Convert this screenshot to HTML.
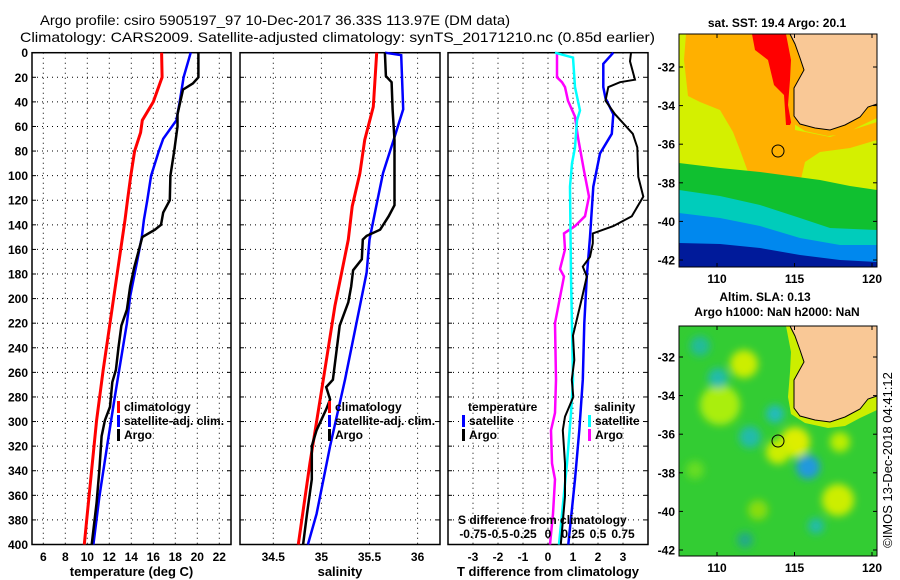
<!DOCTYPE html>
<html><head><meta charset="utf-8"><style>
html,body{margin:0;padding:0;background:#fff;}
svg{display:block;font-family:"Liberation Sans",sans-serif;}
</style></head><body>
<svg id="chart" width="900" height="580" viewBox="0 0 900 580" xmlns="http://www.w3.org/2000/svg">
<defs><filter id="soft" x="-50%" y="-50%" width="200%" height="200%"><feGaussianBlur stdDeviation="4"/></filter></defs>
<text x="40" y="25" font-size="14" textLength="470" lengthAdjust="spacingAndGlyphs">Argo profile: csiro 5905197_97 10-Dec-2017 36.33S 113.97E (DM data)</text>
<text x="20" y="42" font-size="14" textLength="635" lengthAdjust="spacingAndGlyphs">Climatology: CARS2009. Satellite-adjusted climatology: synTS_20171210.nc (0.85d earlier)</text>
<g id="plots"></g>
<g id="maps"></g>
<text transform="translate(892,460) rotate(-90)" font-size="13" text-anchor="middle">©IMOS 13-Dec-2018 04:41:12</text>
</svg>
<script>
// ---- data (depth in m) ----
const tempClimDepth = [0,20,40,55,65,80,100,120,136,179,220,258,299,339,380,400];
const tempClim =      [16.75,16.8,16.0,15.0,14.85,14.3,13.95,13.65,13.43,12.73,12.06,11.45,10.85,10.4,9.95,9.73];
const tempSatDepth = [0,20,40,55,70,80,100,120,136,150,171,198,220,258,280,320,361,400];
const tempSat =      [19.4,18.75,18.4,18.1,16.9,16.5,15.8,15.45,15.15,14.95,14.5,13.9,13.6,12.9,12.5,11.8,11.1,10.55];
const tempArgoDepth = [0,20,25,30,50,60,80,100,120,130,140,144,150,175,190,209,222,239,258,268,288,299,312,339,366,400];
const tempArgo =      [20.1,20.1,19.6,18.7,18.2,18.2,17.9,17.55,17.5,16.9,16.7,16.15,15.0,14.25,13.9,13.6,13.1,12.85,12.6,12.27,12.06,11.6,11.3,11.1,10.85,10.4];

const salClimDepth = [0,44,71,98,125,152,179,206,266,334,400];
const salClim =      [35.575,35.54,35.45,35.40,35.32,35.28,35.21,35.14,35.02,34.88,34.76];
const salSatDepth = [0,2,46,71,98,125,152,179,206,266,320,375,400];
const salSat =      [35.66,35.83,35.85,35.75,35.64,35.57,35.5,35.47,35.40,35.245,35.09,34.95,34.86];
const salArgoDepth = [0,19,24,46,71,124,133,144,149,152,168,177,190,203,222,266,272,282,290,307,320,347,375,400];
const salArgo =      [35.66,35.67,35.73,35.74,35.76,35.76,35.7,35.61,35.47,35.43,35.42,35.33,35.31,35.28,35.19,35.12,35.05,35.09,35.05,34.95,34.9,34.9,34.85,34.81];

const dTSatDepth = [0,9,28,37,50,66,82,109,150,182,220,266,307,347,400];
const dTSat =      [2.61,2.21,2.21,2.3,2.61,2.55,2.08,1.81,1.68,1.55,1.45,1.39,1.25,1.08,0.81];
const dTArgoDepth = [0,7,22,24,28,39,50,66,77,101,117,133,141,147,155,166,174,182,200,230,250,266,280,296,307,334,361,400];
const dTArgo =      [3.32,3.28,3.48,2.88,2.41,2.3,2.68,3.39,3.57,3.61,3.81,3.35,2.61,1.79,1.79,1.68,1.39,1.55,1.35,1.0,1.05,0.95,1.01,0.68,0.59,0.68,0.68,0.51];
const dSSatDepth = [0,4,28,47,55,77,90,109,182,266,293,334,400];
const dSSat =      [0.07,0.25,0.27,0.32,0.29,0.27,0.24,0.22,0.23,0.25,0.23,0.19,0.11];
const dSArgoDepth = [0,20,24,28,39,52,69,96,117,133,141,147,160,176,182,220,266,293,307,334,347,375,400];
const dSArgo =      [0.09,0.09,0.14,0.17,0.2,0.27,0.3,0.36,0.41,0.37,0.27,0.16,0.17,0.12,0.16,0.07,0.08,0.07,0.03,0.04,0.07,0.05,0.02];

const depthTicks = [0,20,40,60,80,100,120,140,160,180,200,220,240,260,280,300,320,340,360,380,400];
const tempTicks = [6,8,10,12,14,16,18,20,22];
const salTicks = [34.5,35,35.5,36];
const salTickLabels = ["34.5","35","35.5","36"];
const dTTicks = [-3,-2,-1,0,1,2,3];
const dSTicks = [-0.75,-0.5,-0.25,0,0.25,0.5,0.75];
const dSTickLabels = ["-0.75","-0.5","-0.25","0","0.25","0.5","0.75"];
const lonTicks = [110,115,120];
const latTicks = [-32,-34,-36,-38,-40,-42];

// ---- scales ----
const TOP=52.7, BOT=544.5;
const yD = d => TOP + d*(BOT-TOP)/400;
const xT = t => 32.3 + (t-5)*11.0;
const xS = s => 273.3 + (s-34.5)*96.2;
const xdT = v => 548 + 25*v;
const xdS = v => 548 + 100*v;

const NS="http://www.w3.org/2000/svg";
function mk(tag, parent){ const e=document.createElementNS(NS,tag); parent.appendChild(e); return e; }
const plots=document.getElementById('plots');

function panel(name, x0, x1, xTicks, xfun, xLabels, xTitle){
  const g=mk('g',plots);
  
  
  xTicks.forEach((t,i)=>{
    const l=mk('line',g); const x=xfun(t);
    l.setAttribute('x1',x);l.setAttribute('x2',x);l.setAttribute('y1',TOP);l.setAttribute('y2',BOT);
    l.setAttribute('stroke','#000');l.setAttribute('stroke-dasharray','1,4');l.setAttribute('stroke-width','1');
    
    
    const tx=mk('text',g); tx.setAttribute('x',x); tx.setAttribute('y',561);
    tx.setAttribute('text-anchor','middle'); tx.setAttribute('font-size','12'); tx.setAttribute('font-weight','bold');
    
    
    tx.textContent = xLabels ? xLabels[i] : String(t);
  });
  depthTicks.forEach(d=>{
    const y=yD(d);
    if(d>0 && d<400){
      const l=mk('line',g);
      l.setAttribute('x1',x0);l.setAttribute('x2',x1);l.setAttribute('y1',y);l.setAttribute('y2',y);
      l.setAttribute('stroke','#000');l.setAttribute('stroke-dasharray','1,4');
      
      
    }
    [[x0,x0+4],[x1-4,x1]].forEach(p=>{
      const t=mk('line',g); t.setAttribute('x1',p[0]);t.setAttribute('x2',p[1]);t.setAttribute('y1',y);t.setAttribute('y2',y);t.setAttribute('stroke','#000');
      
      
    });
  });
  const r=mk('rect',g); r.setAttribute('x',x0);r.setAttribute('y',TOP);r.setAttribute('width',x1-x0);r.setAttribute('height',BOT-TOP);
  r.setAttribute('fill','none');r.setAttribute('stroke','#000');r.setAttribute('stroke-width','1.5');
  
  
  const tt=mk('text',g); tt.setAttribute('x',(x0+x1)/2); tt.setAttribute('y',576); tt.setAttribute('text-anchor','middle');
  tt.setAttribute('font-size','13'); tt.setAttribute('font-weight','bold'); tt.textContent=xTitle;
  
  
  return g;
}
function series(g, name, depths, vals, xfun, color, w){
  const p=mk('polyline',g);
  p.setAttribute('points', depths.map((d,i)=>xfun(vals[i]).toFixed(1)+','+yD(d).toFixed(1)).join(' '));
  p.setAttribute('fill','none'); p.setAttribute('stroke',color); p.setAttribute('stroke-width',w);
  
  
}
function legend(g, x, y, color, label, name){
  const b=mk('rect',g); b.setAttribute('x',x); b.setAttribute('y',y-10); b.setAttribute('width',3); b.setAttribute('height',12); b.setAttribute('fill',color);
  
  
  const t=mk('text',g); t.setAttribute('x',x+7); t.setAttribute('y',y); t.setAttribute('font-size','12'); t.setAttribute('font-weight','bold'); t.textContent=label;
  
  
}

depthTicks.forEach(d=>{
  const t=mk('text',plots); t.setAttribute('x',28); t.setAttribute('y',yD(d)+4.5); t.setAttribute('text-anchor','end');
  t.setAttribute('font-size','12'); t.setAttribute('font-weight','bold'); t.textContent=String(d);
  
  
});

const g1=panel('temperature-panel',32,231,tempTicks,xT,null,'temperature (deg C)');
series(g1,'climatology-temperature-line',tempClimDepth,tempClim,xT,'#ff0000',3);
series(g1,'satellite-temperature-line',tempSatDepth,tempSat,xT,'#0000ff',2.5);
series(g1,'argo-temperature-line',tempArgoDepth,tempArgo,xT,'#000',2.5);
legend(g1,117,411,'#ff0000','climatology','legend-climatology');
legend(g1,117,425,'#0000ff','satellite-adj. clim.','legend-satellite');
legend(g1,117,439,'#000','Argo','legend-argo');

const g2=panel('salinity-panel',240,440,salTicks,xS,salTickLabels,'salinity');
series(g2,'climatology-salinity-line',salClimDepth,salClim,xS,'#ff0000',3);
series(g2,'satellite-salinity-line',salSatDepth,salSat,xS,'#0000ff',2.5);
series(g2,'argo-salinity-line',salArgoDepth,salArgo,xS,'#000',2.5);
legend(g2,328,411,'#ff0000','climatology','legend-climatology');
legend(g2,328,425,'#0000ff','satellite-adj. clim.','legend-satellite');
legend(g2,328,439,'#000','Argo','legend-argo');

const g3=panel('difference-panel',448,648,dTTicks,xdT,null,'T difference from climatology');
series(g3,'salinity-argo-diff-line',dSArgoDepth,dSArgo,xdS,'#ff00ff',2.5);
series(g3,'salinity-satellite-diff-line',dSSatDepth,dSSat,xdS,'#00ffff',2.5);
series(g3,'temperature-satellite-diff-line',dTSatDepth,dTSat,xdT,'#0000ff',2.5);
series(g3,'temperature-argo-diff-line',dTArgoDepth,dTArgo,xdT,'#000',2);
(function(){
  const t=mk('text',g3); t.setAttribute('x',468); t.setAttribute('y',411); t.setAttribute('font-size','12'); t.setAttribute('font-weight','bold'); t.textContent='temperature';
  
  
  const s=mk('text',g3); s.setAttribute('x',594); s.setAttribute('y',411); s.setAttribute('font-size','12'); s.setAttribute('font-weight','bold'); s.textContent='salinity';
  
  
  const h=mk('text',g3); h.setAttribute('x',458); h.setAttribute('y',524); h.setAttribute('font-size','12'); h.setAttribute('font-weight','bold'); h.textContent='S difference from climatology';
  
  
  dSTicks.forEach((v,i)=>{
    const l=mk('text',g3); l.setAttribute('x',xdS(v)); l.setAttribute('y',538); l.setAttribute('text-anchor','middle');
    l.setAttribute('font-size','12'); l.setAttribute('font-weight','bold'); l.textContent=dSTickLabels[i];
    
    
  });
})();
legend(g3,462,425,'#0000ff','satellite','legend-temperature-satellite');
legend(g3,462,439,'#000','Argo','legend-temperature-argo');
legend(g3,588,425,'#00ffff','satellite','legend-salinity-satellite');
legend(g3,588,439,'#ff00ff','Argo','legend-salinity-argo');

// ---- maps ----
const maps=document.getElementById('maps');
function mapAxes(g, top, bottom){
  const yLat = la => (top===34 ? 67 : 357) + (-32-la)*19.3;
  const xLon = lo => 717 + (lo-110)*15.5;
  latTicks.forEach(la=>{
    const y=yLat(la);
    const t=mk('text',g); t.setAttribute('x',675); t.setAttribute('y',y+4.5); t.setAttribute('text-anchor','end');
    t.setAttribute('font-size','12'); t.setAttribute('font-weight','bold'); t.textContent=String(la);
    
    
    [[679,683],[873,877]].forEach(p=>{const l=mk('line',g);l.setAttribute('x1',p[0]);l.setAttribute('x2',p[1]);l.setAttribute('y1',y);l.setAttribute('y2',y);l.setAttribute('stroke','#000');
      
      });
  });
  lonTicks.forEach(lo=>{
    const x=xLon(lo);
    const t=mk('text',g); t.setAttribute('x',x); t.setAttribute('y',bottom+16); t.setAttribute('text-anchor','middle');
    t.setAttribute('font-size','12'); t.setAttribute('font-weight','bold'); t.textContent=String(lo);
    
    
    [[top,top+4],[bottom-4,bottom]].forEach(p=>{const l=mk('line',g);l.setAttribute('x1',x);l.setAttribute('x2',x);l.setAttribute('y1',p[0]);l.setAttribute('y2',p[1]);l.setAttribute('stroke','#000');
      
      });
  });
}
function poly(g, pts, fill, name, dy, stroke){
  const p=mk('polygon',g); p.setAttribute('points', pts.map(q=>q[0]+','+(q[1]+dy)).join(' '));
  p.setAttribute('fill',fill); if(stroke){p.setAttribute('stroke',stroke);p.setAttribute('stroke-width','1');}
  
  
  return p;
}
const land=[[790,34],[877,34],[877,104],[868,107],[860,117],[845,125],[830,130],[815,128],[800,124],[794,116],[794,88],[804,70],[800,58],[795,44]];
const shelf=[[786,34],[790,34],[795,44],[800,58],[804,70],[794,88],[794,116],[800,124],[815,128],[830,130],[845,125],[860,117],[868,107],[877,104],[877,118],[860,126],[845,134],[828,136],[805,131],[791,122],[788,105],[790,80],[791,60]];

// SST map
const m1=mk('g',maps);


(function(){
  const r=mk('rect',m1); r.setAttribute('x',679);r.setAttribute('y',34);r.setAttribute('width',198);r.setAttribute('height',233);r.setAttribute('fill','#d4f000');
  
  
  poly(m1,[[686,34],[795,34],[795,130],[830,137],[877,122],[877,140],[850,148],[820,152],[805,162],[796,200],[776,206],[760,196],[748,172],[740,150],[733,132],[720,110],[700,102],[688,96],[684,60]],'#ffb000','sst-warm-region',0);
  poly(m1,[[752,34],[795,34],[800,100],[790,125],[786,125],[784,95],[774,85],[768,60],[755,50]],'#ff0000','sst-hot-region',0);
  poly(m1,[[679,163],[720,168],[760,172],[790,176],[820,180],[850,186],[877,190],[877,267],[679,267]],'#10c030','sst-green-band',0);
  poly(m1,[[679,190],[720,196],[760,205],[800,218],[830,228],[877,230],[877,267],[679,267]],'#00ccbb','sst-cyan-band',0);
  poly(m1,[[679,213],[720,218],[760,226],[800,238],[840,245],[877,245],[877,267],[679,267]],'#0088ee','sst-blue-band',0);
  poly(m1,[[679,243],[720,244],[760,248],[800,255],[840,260],[877,262],[877,267],[679,267]],'#001a9a','sst-darkblue-band',0);
  poly(m1,shelf,'#ffb000','sst-shelf',0);
  poly(m1,land,'#f9c896','sst-land',0,'#000');
  const c=mk('circle',m1); c.setAttribute('cx',778);c.setAttribute('cy',151);c.setAttribute('r',6);c.setAttribute('fill','none');c.setAttribute('stroke','#000');
  
  
  const f=mk('rect',m1); f.setAttribute('x',679);f.setAttribute('y',34);f.setAttribute('width',198);f.setAttribute('height',233);f.setAttribute('fill','none');f.setAttribute('stroke','#000');
  
  
  const t=mk('text',m1); t.setAttribute('x',777);t.setAttribute('y',27);t.setAttribute('text-anchor','middle');t.setAttribute('font-size','12');t.setAttribute('font-weight','bold');
  t.textContent='sat. SST: 19.4 Argo: 20.1';
  
  
  mapAxes(m1,34,267);
})();

// SLA map
const m2=mk('g',maps);


(function(){
  const r=mk('rect',m2); r.setAttribute('x',679);r.setAttribute('y',326);r.setAttribute('width',198);r.setAttribute('height',230);r.setAttribute('fill','#33cc33');
  
  
  const bg=mk('g',m2); bg.setAttribute('filter','url(#soft)');
  
  
  const blobs=[[744,364,14,'#ccee00'],[720,405,20,'#aaee11'],[795,442,15,'#ddee00'],[778,452,12,'#ccee00'],[840,442,10,'#bbee00'],[838,500,16,'#ccee00'],[758,510,10,'#88dd11'],[695,470,9,'#66dd22'],
              [718,378,10,'#22bbaa'],[700,346,10,'#22bb99'],[750,437,11,'#22bbaa'],[775,414,9,'#22bbbb'],[808,467,12,'#2299dd'],[816,526,8,'#22bbaa'],[745,540,8,'#22aa88']];
  blobs.forEach(b=>{
    const c=mk('circle',bg); c.setAttribute('cx',b[0]);c.setAttribute('cy',b[1]);c.setAttribute('r',b[2]);c.setAttribute('fill',b[3]);
    
    
  });
  poly(m2,shelf,'#ccee00','sla-shelf',292);
  poly(m2,land,'#f9c896','sla-land',292,'#000');
  const c=mk('circle',m2); c.setAttribute('cx',778);c.setAttribute('cy',441);c.setAttribute('r',6);c.setAttribute('fill','none');c.setAttribute('stroke','#000');
  
  
  const f=mk('rect',m2); f.setAttribute('x',679);f.setAttribute('y',326);f.setAttribute('width',198);f.setAttribute('height',230);f.setAttribute('fill','none');f.setAttribute('stroke','#000');
  
  
  const t=mk('text',m2); t.setAttribute('x',765);t.setAttribute('y',301);t.setAttribute('text-anchor','middle');t.setAttribute('font-size','12');t.setAttribute('font-weight','bold');
  t.textContent='Altim. SLA: 0.13';
  
  
  const t2=mk('text',m2); t2.setAttribute('x',777);t2.setAttribute('y',316);t2.setAttribute('text-anchor','middle');t2.setAttribute('font-size','12');t2.setAttribute('font-weight','bold');
  t2.textContent='Argo h1000: NaN h2000: NaN';
  
  
  mapAxes(m2,326,556);
})();
</script>
</body></html>
